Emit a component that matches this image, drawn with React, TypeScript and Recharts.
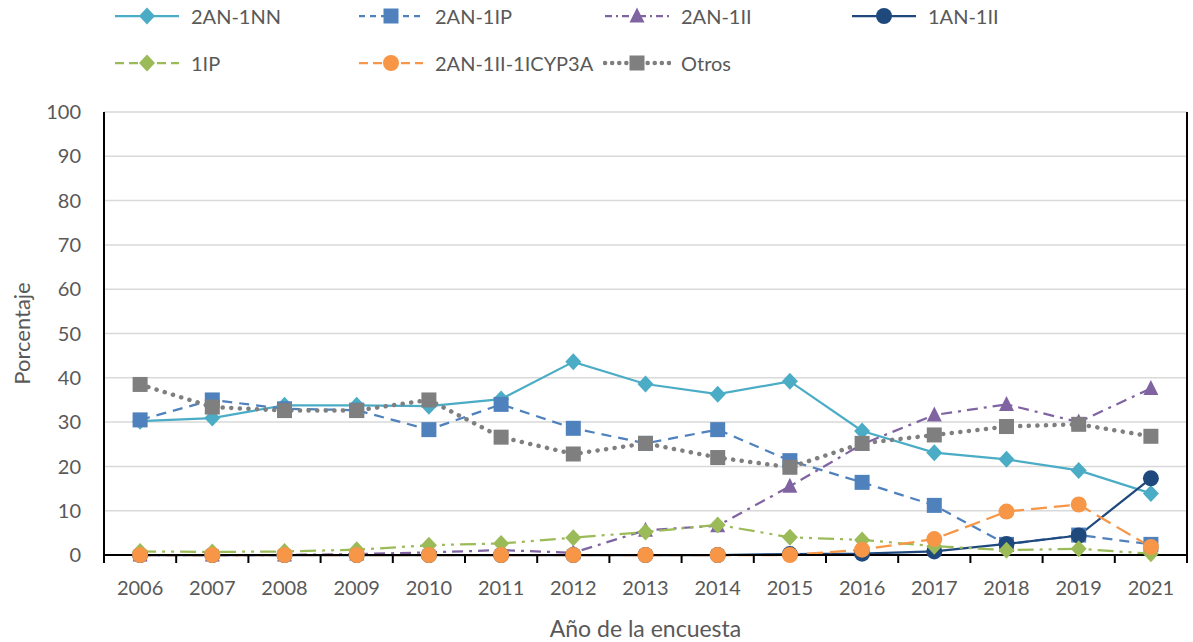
import React from "react";
import {
  LineChart,
  Line,
  XAxis,
  YAxis,
  CartesianGrid,
  Legend,
} from "recharts";

const years = ["2006", "2007", "2008", "2009", "2010", "2011", "2012", "2013", "2014", "2015", "2016", "2017", "2018", "2019", "2021"];
const yTicks = [0, 10, 20, 30, 40, 50, 60, 70, 80, 90, 100];

const nn = [30.2, 30.9, 33.8, 33.8, 33.6, 35.2, 43.6, 38.6, 36.3, 39.2, 28.0, 23.1, 21.6, 19.1, 13.9];
const ip = [30.5, 35.0, 33.0, 32.7, 28.3, 34.0, 28.6, 25.2, 28.3, 21.3, 16.4, 11.2, 2.4, 4.5, 2.4];
const ii = [0, 0, 0, 0.2, 0.6, 1.1, 0.5, 5.6, 6.6, 15.5, 25.0, 31.6, 34.0, 30.0, 37.6];
const an = [0, 0, 0, 0, 0, 0, 0, 0, 0, 0.2, 0.3, 0.8, 2.5, 4.4, 17.3];
const ip1 = [0.8, 0.7, 0.8, 1.2, 2.2, 2.6, 3.9, 5.2, 6.8, 4.0, 3.4, 2.0, 1.1, 1.4, 0.3];
const cyp = [0, 0, 0, 0, 0, 0, 0, 0, 0, 0, 1.2, 3.6, 9.8, 11.4, 1.8];
const otros = [38.5, 33.4, 32.6, 32.6, 35.0, 26.6, 22.8, 25.2, 22.0, 19.8, 25.2, 27.1, 29.0, 29.5, 26.8];

const data = years.map((year, i) => ({
  year,
  nn: nn[i],
  ip: ip[i],
  ii: ii[i],
  an: an[i],
  ip1: ip1[i],
  cyp: cyp[i],
  otros: otros[i],
}));

type Shape = "diamond" | "square" | "triangle" | "circle";

const series: {
  key: string;
  name: string;
  color: string;
  dash?: string;
  legendDash?: string;
  shape: Shape;
  width: number;
  cap?: "round" | "butt";
}[] = [
  { key: "nn", name: "2AN-1NN", color: "#4BACC6", shape: "diamond", width: 2.25 },
  { key: "ip", name: "2AN-1IP", color: "#4F81BD", dash: "10 7", legendDash: "6 5", shape: "square", width: 2.25 },
  { key: "ii", name: "2AN-1II", color: "#8064A2", dash: "11 6 3 6", legendDash: "7 4 2 4", shape: "triangle", width: 2.25 },
  { key: "an", name: "1AN-1II", color: "#1F497D", shape: "circle", width: 2.25 },
  { key: "ip1", name: "1IP", color: "#9BBB59", dash: "16 6 3 6 3 6", legendDash: "9 5", shape: "diamond", width: 2.25 },
  { key: "cyp", name: "2AN-1II-1ICYP3A", color: "#F79646", dash: "16 7", legendDash: "9 5", shape: "circle", width: 2.25 },
  { key: "otros", name: "Otros", color: "#7F7F7F", dash: "0.1 8.5", legendDash: "0.1 7", shape: "square", width: 4.5, cap: "round" },
];

const FONT = "Lato, 'Liberation Sans', sans-serif";
const TXT = "#595959";
const W = 1193;
const H = 642;
const LEFT = 104;
const RIGHT = 6;
const PLOT_W = W - LEFT - RIGHT;
const HALF_BAND = PLOT_W / years.length / 2;

function Marker({ cx, cy, shape, color }: { cx: number; cy: number; shape: Shape; color: string }) {
  if (shape === "diamond")
    return <polygon points={`${cx},${cy - 8.5} ${cx + 8},${cy} ${cx},${cy + 8.5} ${cx - 8},${cy}`} fill={color} />;
  if (shape === "square") return <rect x={cx - 7.5} y={cy - 7.5} width={15} height={15} fill={color} />;
  if (shape === "triangle")
    return <polygon points={`${cx},${cy - 8.5} ${cx + 7.5},${cy + 6.5} ${cx - 7.5},${cy + 6.5}`} fill={color} />;
  return <circle cx={cx} cy={cy} r={8} fill={color} />;
}

const XTick = (props: any) => {
  const { x, y, payload, index } = props;
  return (
    <g>
      <line x1={x - HALF_BAND} x2={x - HALF_BAND} y1={y} y2={y + 8} stroke="#000" strokeWidth={2} />
      {index === years.length - 1 && (
        <line x1={x + HALF_BAND} x2={x + HALF_BAND} y1={y} y2={y + 8} stroke="#000" strokeWidth={2} />
      )}
      <text x={x} y={y + 40} textAnchor="middle" fill={TXT} fontSize={20} fontFamily={FONT}>
        {payload.value}
      </text>
    </g>
  );
};

const legendCols = [113, 357, 603, 850];
const legendRows = [16, 63];

const LegendContent = () => (
  <div style={{ position: "relative", width: W, height: 90 }}>
    {series.map((s, i) => {
      const col = i < 4 ? i : i - 4;
      const row = i < 4 ? 0 : 1;
      const left = legendCols[col];
      const top = legendRows[row];
      return (
        <div key={s.key} style={{ position: "absolute", left, top: top - 12, height: 24, display: "flex", alignItems: "center" }}>
          <svg width={68} height={24} style={{ display: "block" }}>
            <line
              x1={2}
              x2={66}
              y1={12}
              y2={12}
              stroke={s.color}
              strokeWidth={s.width}
              strokeDasharray={s.legendDash}
              strokeLinecap={s.cap ?? "butt"}
            />
            <Marker cx={34} cy={12} shape={s.shape} color={s.color} />
          </svg>
          <span style={{ marginLeft: 10, fontSize: 20, color: TXT, fontFamily: FONT, whiteSpace: "nowrap" }}>{s.name}</span>
        </div>
      );
    })}
  </div>
);

export default function App() {
  return (
    <div style={{ position: "absolute", left: 0, top: 0, width: W, height: H, background: "#fff", fontFamily: FONT }}>
      <LineChart width={W} height={H} data={data} margin={{ top: 112, right: 0, bottom: 0, left: 0 }}>
        <CartesianGrid vertical={false} stroke="#D9D9D9" strokeWidth={1.5} xAxisId="b" yAxisId="l" />
        <XAxis
          xAxisId="b"
          dataKey="year"
          height={87}
          padding={{ left: HALF_BAND, right: HALF_BAND }}
          axisLine={{ stroke: "#000", strokeWidth: 2 }}
          tickLine={false}
          tickSize={0}
          tickMargin={0}
          interval={0}
          tick={<XTick />}
          label={{ value: "Año de la encuesta", position: "insideBottom", offset: 5, fill: TXT, fontSize: 23, fontFamily: FONT }}
        />
        <XAxis
          xAxisId="t"
          dataKey="year"
          orientation="top"
          height={0}
          padding={{ left: HALF_BAND, right: HALF_BAND }}
          tick={false}
          tickLine={false}
          axisLine={{ stroke: "#000", strokeWidth: 2 }}
        />
        <YAxis
          yAxisId="l"
          width={LEFT}
          domain={[0, 100]}
          ticks={yTicks}
          interval={0}
          axisLine={{ stroke: "#000", strokeWidth: 2 }}
          tickLine={false}
          tickMargin={17}
          tick={{ fill: TXT, fontSize: 20, fontFamily: FONT }}
          label={{
            value: "Porcentaje",
            angle: -90,
            position: "insideLeft",
            offset: 22,
            fill: TXT,
            fontSize: 22,
            fontFamily: FONT,
            style: { textAnchor: "middle" },
          }}
        />
        <YAxis yAxisId="r" orientation="right" width={RIGHT} domain={[0, 100]} tick={false} tickLine={false} axisLine={{ stroke: "#000", strokeWidth: 2 }} />
        <Legend
          layout="horizontal"
          verticalAlign="middle"
          align="center"
          wrapperStyle={{ top: 0, left: 0, width: W, height: 90 }}
          content={() => <LegendContent />}
        />
        {series.map((s) => (
          <Line
            key={s.key}
            xAxisId="b"
            yAxisId="l"
            type="linear"
            dataKey={s.key}
            name={s.name}
            stroke={s.color}
            strokeWidth={s.width}
            strokeDasharray={s.dash}
            strokeLinecap={s.cap ?? "butt"}
            isAnimationActive={false}
            activeDot={false}
            dot={(p: any) => (
              <g key={`${s.key}-${p.index}`}>
                <Marker cx={p.cx} cy={p.cy} shape={s.shape} color={s.color} />
              </g>
            )}
          />
        ))}
      </LineChart>
    </div>
  );
}
